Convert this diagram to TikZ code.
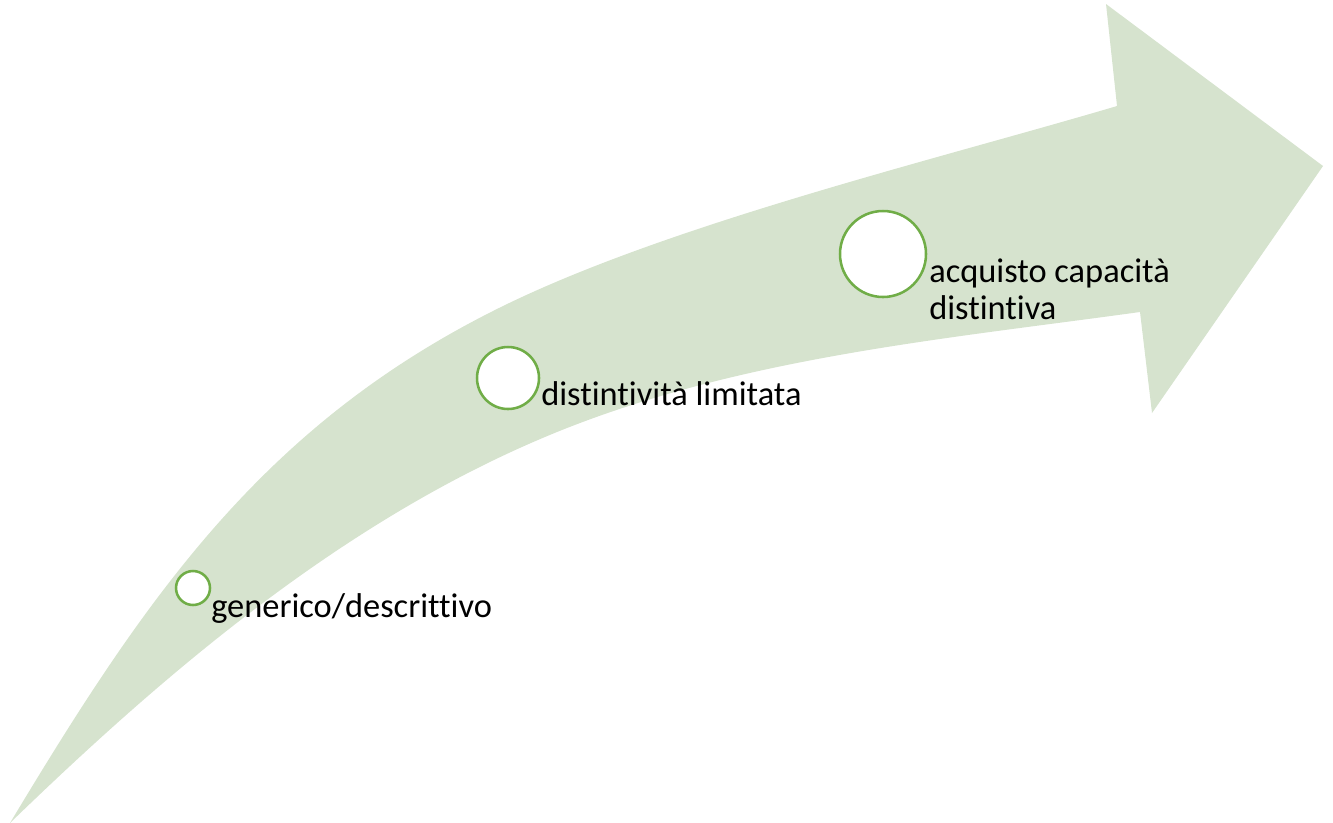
\documentclass[tikz,border=0pt]{standalone}
\usepackage{fontspec}
\setmainfont{Carlito}[Ligatures=NoCommon]
\usepackage{tikz}
\usetikzlibrary{positioning}

\definecolor{arrowgreen}{RGB}{214,227,206}
\definecolor{ringgreen}{RGB}{112,173,71}

\begin{document}
\begin{tikzpicture}[x=0.75pt,y=-0.75pt,
  stage/.style={circle,draw=ringgreen,line width=1.9pt,fill=white,inner sep=0pt},
  lbl/.style={font=\fontsize{25.8}{27.4}\selectfont,inner sep=0pt,anchor=base west,align=left}]

\useasboundingbox (0,0) rectangle (1333,822);

\fill[arrowgreen] (10,823) .. controls (144,600) and (260,429) .. (491,312)
  .. controls (660,226) and (935,160) .. (1117,106)
  -- (1106,4) -- (1323,166) -- (1152,413) -- (1140,312)
  .. controls (945,339) and (745,357) .. (562,430)
  .. controls (352,514) and (172,666) .. (10,823) -- cycle;

\node[stage,minimum size=25.5pt] (c1) at (193,588) {};
\node[stage,minimum size=46.5pt] (c2) at (508,378) {};
\node[stage,minimum size=64.5pt] (c3) at (883,254) {};

\node[lbl] (t1) at (211,617) {generico/descrittivo};
\node[lbl] (t2) at (541,405) {distintività limitata};
\node[lbl] (t3) at (929,319) {acquisto capacità\\distintiva};

\end{tikzpicture}
\end{document}
